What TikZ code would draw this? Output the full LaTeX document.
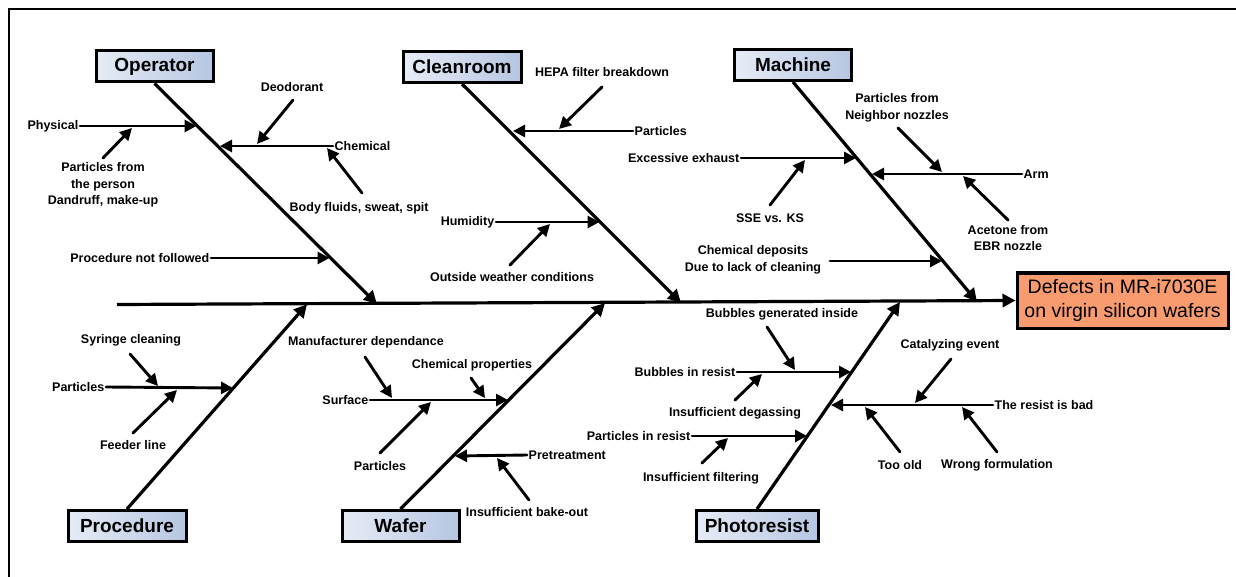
\documentclass[tikz,border=0pt]{standalone}
\usepackage{fontspec}
\setmainfont{Liberation Sans}
\usetikzlibrary{arrows.meta}
\definecolor{boxL}{RGB}{230,236,246}
\definecolor{boxR}{RGB}{182,198,226}
\definecolor{effC}{RGB}{248,155,110}
\begin{document}
\begin{tikzpicture}[x=1pt,y=-1pt,
  cat/.style={draw, line width=3pt, left color=boxL, right color=boxR,
    font=\bfseries\fontsize{19}{22}\selectfont, minimum height=31pt, inner sep=0pt},
  eff/.style={draw, line width=3pt, fill=effC, font=\fontsize{19.5}{24}\selectfont,
    align=center, minimum width=211pt, minimum height=55pt, inner sep=0pt},
  lbl/.style={font=\bfseries\fontsize{12.5}{16.5}\selectfont, align=center, inner sep=1.5pt},
  bone/.style={line width=3.2pt, -{Triangle[length=13pt,width=13pt]}},
  sub/.style={line width=2.9pt, line cap=round, -{Triangle[length=12pt,width=12pt]}},
]
\useasboundingbox (0,0) rectangle (1236,577);
\coordinate (frA) at (9,577);
\coordinate (frB) at (9,9);
\coordinate (frC) at (1236,9);
\draw[line width=2pt] (frA) -- (frB) -- (frC);

% ---------- boxes ----------
\node[cat, minimum width=117pt] (op) at (154.5,66.5) {Operator};
\node[cat, minimum width=118pt] (cr) at (462,67) {Cleanroom};
\node[cat, minimum width=117pt] (ma) at (793,65) {Machine};
\node[cat, minimum width=118pt] (pr) at (127,526) {Procedure};
\node[cat, minimum width=117pt] (wa) at (400.5,526) {Wafer};
\node[cat, minimum width=122pt] (ph) at (757,526) {Photoresist};
\node[eff] (eff) at (1122.5,300.5) {Defects in MR-i7030E\\on virgin silicon wafers};

% ---------- spine ----------
\coordinate (spL) at (117,304.5);
\draw[bone] (spL) -- (eff.west);

% ---------- bones ----------
\coordinate (opT) at (377,304);
\coordinate (crT) at (681,302.8);
\coordinate (maT) at (977,301.7);
\coordinate (prT) at (307,304.3);
\coordinate (waT) at (605,303.1);
\coordinate (phT) at (900,302);
\draw[bone] (op.south) -- (opT);
\draw[bone] (cr.south) -- (crT);
\draw[bone] (ma.south) -- (maT);
\draw[bone] (pr.north) -- (prT);
\draw[bone] (wa.north) -- (waT);
\draw[bone] (ph.north) -- (phT);

% ---------- Operator ----------
\node[lbl,anchor=east] (physL) at (80,126) {Physical};
\node[lbl] (ppL) at (103,185) {Particles from\\the person\\Dandruff, make-up};
\node[lbl,anchor=west] (chemL) at (333,146) {Chemical};
\node[lbl] (deoL) at (292,87) {Deodorant};
\node[lbl,anchor=west] (bodyL) at (288,208) {Body fluids, sweat, spit};
\node[lbl,anchor=east] (pnfL) at (211,258) {Procedure not followed};
\coordinate (physT) at (196.5,126);
\coordinate (chemT) at (220,146);
\coordinate (pnfT) at (329.5,258);
\draw[sub] (physL.east) -- (physT);
\draw[sub] (chemL.west) -- (chemT);
\draw[sub] (pnfL.east) -- (pnfT);
\coordinate (ppS) at (103,158);  \coordinate (ppT) at (132,128);
\coordinate (deoS) at (293,100); \coordinate (deoT) at (257,144);
\coordinate (bodyS) at (362,193); \coordinate (bodyT) at (327,148);
\draw[sub] (ppS) -- (ppT);
\draw[sub] (deoS) -- (deoT);
\draw[sub] (bodyS) -- (bodyT);

% ---------- Cleanroom ----------
\node[lbl] (hepaL) at (602,72) {HEPA filter breakdown};
\node[lbl,anchor=west] (partCL) at (633,131) {Particles};
\node[lbl,anchor=east] (humL) at (496,222) {Humidity};
\node[lbl] (owcL) at (512,277) {Outside weather conditions};
\coordinate (partCT) at (513,131);
\coordinate (humT) at (599.5,222);
\draw[sub] (partCL.west) -- (partCT);
\draw[sub] (humL.east) -- (humT);
\coordinate (hepaS) at (602,87); \coordinate (hepaT) at (559,129);
\coordinate (owcS) at (510,265); \coordinate (owcT) at (550,224);
\draw[sub] (hepaS) -- (hepaT);
\draw[sub] (owcS) -- (owcT);

% ---------- Machine ----------
\node[lbl,anchor=east] (exhL) at (741,158) {Excessive exhaust};
\node[lbl] (sseL) at (770,218) {SSE vs. KS};
\node[lbl,anchor=west] (armL) at (1022,174) {Arm};
\node[lbl] (nbrL) at (897,108) {Particles from\\Neighbor nozzles};
\node[lbl] (aceL) at (1008,238) {Acetone from\\EBR nozzle};
\node[lbl] (cdL) at (753,260) {Chemical deposits\\Due to lack of cleaning};
\coordinate (exhT) at (856,158);
\coordinate (armT) at (872,174);
\coordinate (cdS) at (830,261);
\coordinate (cdT) at (942,261);
\draw[sub] (exhL.east) -- (exhT);
\draw[sub] (armL.west) -- (armT);
\draw[sub] (cdS) -- (cdT);
\coordinate (sseS) at (770,205); \coordinate (sseT) at (805,160);
\coordinate (nbrS) at (898,128); \coordinate (nbrT) at (942,172);
\coordinate (aceS) at (1008,220); \coordinate (aceT) at (963,176);
\draw[sub] (sseS) -- (sseT);
\draw[sub] (nbrS) -- (nbrT);
\draw[sub] (aceS) -- (aceT);

% ---------- Procedure ----------
\node[lbl,anchor=east] (partPL) at (106,387) {Particles};
\node[lbl] (syrL) at (131,340) {Syringe cleaning};
\node[lbl] (feedL) at (133,445) {Feeder line};
\coordinate (partPT) at (233,388);
\draw[sub] (partPL.east) -- (partPT);
\coordinate (syrS) at (130,354); \coordinate (syrT) at (158,386);
\coordinate (feedS) at (133,433); \coordinate (feedT) at (177,390);
\draw[sub] (syrS) -- (syrT);
\draw[sub] (feedS) -- (feedT);

% ---------- Wafer ----------
\node[lbl,anchor=east] (surfL) at (370,400) {Surface};
\node[lbl] (manL) at (366,342) {Manufacturer dependance};
\node[lbl] (cpL) at (472,365) {Chemical properties};
\node[lbl] (partWL) at (380,466) {Particles};
\node[lbl,anchor=west] (preL) at (527,455) {Pretreatment};
\node[lbl] (bakeL) at (527,512) {Insufficient bake-out};
\coordinate (surfT) at (508,400);
\coordinate (preT) at (455,456);
\draw[sub] (surfL.east) -- (surfT);
\draw[sub] (preL.west) -- (preT);
\coordinate (manS) at (365,357); \coordinate (manT) at (392,398);
\coordinate (cpS) at (471,378);  \coordinate (cpT) at (485,398);
\coordinate (partWS) at (380,453); \coordinate (partWT) at (431,402);
\coordinate (bakeS) at (529,500); \coordinate (bakeT) at (497,458);
\draw[sub] (manS) -- (manT);
\draw[sub] (cpS) -- (cpT);
\draw[sub] (partWS) -- (partWT);
\draw[sub] (bakeS) -- (bakeT);

% ---------- Photoresist ----------
\node[lbl,anchor=east] (birL) at (737,372) {Bubbles in resist};
\node[lbl] (bgiL) at (782,314) {Bubbles generated inside};
\node[lbl] (degL) at (735,413) {Insufficient degassing};
\node[lbl,anchor=east] (pirL) at (692,436) {Particles in resist};
\node[lbl] (filtL) at (701,478) {Insufficient filtering};
\node[lbl,anchor=west] (badL) at (993,405) {The resist is bad};
\node[lbl] (cataL) at (950,345) {Catalyzing event};
\node[lbl] (oldL) at (900,465) {Too old};
\node[lbl] (wrongL) at (997,465) {Wrong formulation};
\coordinate (birT) at (851,372);
\coordinate (pirT) at (807,436);
\coordinate (badT) at (831,405);
\draw[sub] (birL.east) -- (birT);
\draw[sub] (pirL.east) -- (pirT);
\draw[sub] (badL.west) -- (badT);
\coordinate (bgiS) at (767,327); \coordinate (bgiT) at (795,370);
\coordinate (degS) at (735,400); \coordinate (degT) at (762,374);
\coordinate (filtS) at (702,463); \coordinate (filtT) at (728,438);
\coordinate (cataS) at (951,359); \coordinate (cataT) at (915,403);
\coordinate (oldS) at (900,452); \coordinate (oldT) at (865,407);
\coordinate (wrongS) at (997,452); \coordinate (wrongT) at (962,407);
\draw[sub] (bgiS) -- (bgiT);
\draw[sub] (degS) -- (degT);
\draw[sub] (filtS) -- (filtT);
\draw[sub] (cataS) -- (cataT);
\draw[sub] (oldS) -- (oldT);
\draw[sub] (wrongS) -- (wrongT);
\end{tikzpicture}
\end{document}
